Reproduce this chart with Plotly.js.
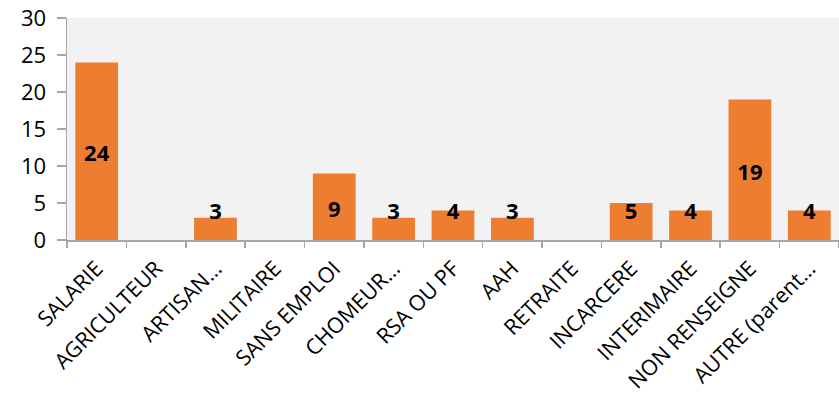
<!DOCTYPE html>
<html><head><meta charset="utf-8">
<script src="https://cdn.plot.ly/plotly-3.0.1.min.js"></script>
<style>html,body{margin:0;padding:0;background:#fff}</style>
</head><body><div id="chart" style="width:839px;height:404px"></div>
<script>
const categories = ["SALARIE","AGRICULTEUR","ARTISAN…","MILITAIRE","SANS EMPLOI","CHOMEUR…","RSA OU PF","AAH","RETRAITE","INCARCERE","INTERIMAIRE","NON RENSEIGNE","AUTRE (parent…"];
const values = [24,0,3,0,9,3,4,3,0,5,4,19,4];
const yTicks = [0,5,10,15,20,25,30];

const labCats = categories.filter((c,i)=>values[i]>0);
const labVals = values.filter(v=>v>0);
const labY = labVals.map(v=>Math.max(v/2 - 0.6, 3.6));

const traces = [
  {type:'bar', x:categories, y:values, marker:{color:'#ED7D31', line:{width:0}}, hoverinfo:'none'},
  {type:'scatter', mode:'text', x:labCats, y:labY, text:labVals.map(String),
   textfont:{family:'Open Sans, sans-serif', size:22, color:'#000', weight:'bold'}, hoverinfo:'none'}
];
const layout = {
  width:839, height:404, showlegend:false,
  margin:{l:67, r:0, t:18, b:164},
  paper_bgcolor:'#fff', plot_bgcolor:'#F2F2F2',
  bargap:0.28,
  font:{family:'Open Sans, sans-serif', color:'#000'},
  xaxis:{type:'category', tickangle:-45, tickfont:{size:21.5, color:'#000'}, showgrid:false,
    showline:true, linecolor:'#A6A6A6', linewidth:1.5, ticks:'outside', tickson:'boundaries',
    ticklen:6, tickcolor:'#A6A6A6', tickwidth:1.5, range:[-0.5,12.5], fixedrange:true, ticklabelstandoff:6},
  yaxis:{range:[0,30], tickvals:yTicks, ticktext:yTicks.map(String), showgrid:false, zeroline:false,
    showline:true, linecolor:'#A6A6A6', linewidth:1.5, ticks:'outside', ticklen:9, tickcolor:'#A6A6A6', tickwidth:1.5,
    tickfont:{size:22, color:'#000'}, fixedrange:true, ticklabelstandoff:6}
};
Plotly.newPlot('chart', traces, layout, {displayModeBar:false, staticPlot:true});
</script></body></html>
